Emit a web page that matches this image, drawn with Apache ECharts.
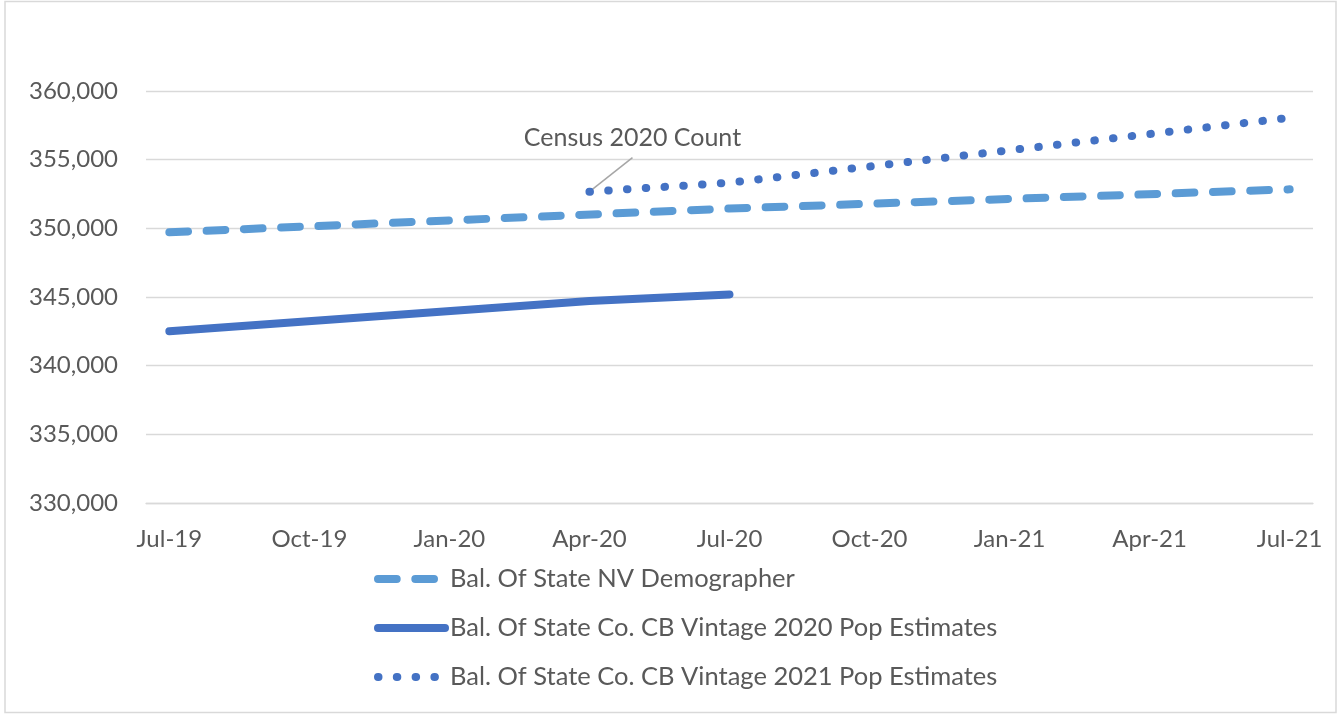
<!DOCTYPE html>
<html>
<head>
<meta charset="utf-8">
<script src="https://cdn.jsdelivr.net/npm/echarts@6/dist/echarts.min.js"></script>
<style>
  html, body { margin: 0; padding: 0; background: #fff; }
  #chart { width: 1339px; height: 715px; }
</style>
</head>
<body>
<div id="chart"></div>
<script>
// x 轴月份（Excel 日期轴，按月）
const months = [
  'Jul-19', 'Aug-19', 'Sep-19', 'Oct-19', 'Nov-19', 'Dec-19',
  'Jan-20', 'Feb-20', 'Mar-20', 'Apr-20', 'May-20', 'Jun-20',
  'Jul-20', 'Aug-20', 'Sep-20', 'Oct-20', 'Nov-20', 'Dec-20',
  'Jan-21', 'Feb-21', 'Mar-21', 'Apr-21', 'May-21', 'Jun-21', 'Jul-21'
]

const seriesNames = [
  'Bal. Of State NV Demographer',
  'Bal. Of State Co. CB Vintage 2020 Pop Estimates',
  'Bal. Of State Co. CB Vintage 2021 Pop Estimates'
]

// 各序列的数据点 [月份, 人口]
const nvDemographer = [['Jul-19', 349710], ['Jul-20', 351440], ['Jul-21', 352840]]
const vintage2020 = [['Jul-19', 342500], ['Apr-20', 344710], ['Jul-20', 345180]]
const vintage2021 = [['Apr-20', 352670], ['Jul-20', 353320], ['Jul-21', 358050]]

const yTicks = { min: 330000, max: 360000, step: 5000 }

const censusNote = { text: 'Census 2020 Count', month: 'Apr-20', value: 352670 }

const FONT = 'Lato, "Noto Sans", sans-serif'
const TEXT = '#595959'
const GRID = '#d9d9d9'

const chart = echarts.init(document.getElementById('chart'), null, { renderer: 'canvas' })

function lineSeries (name, data, color, type) {
  return {
    name,
    type: 'line',
    data,
    symbol: 'none',
    connectNulls: true,
    animation: false,
    lineStyle: { color, width: 8, type, cap: 'round', join: 'round' },
    itemStyle: { color }
  }
}

chart.setOption({
  backgroundColor: '#fff',
  grid: { left: 146, right: 26, top: 91, bottom: 212 },
  xAxis: {
    type: 'category',
    data: months,
    boundaryGap: true,
    axisLine: { lineStyle: { color: GRID, width: 1.3 } },
    axisTick: { interval: 2, length: 8, lineStyle: { color: GRID, width: 1.3 } },
    axisLabel: { interval: 2, color: TEXT, fontSize: 24, fontFamily: FONT, margin: 24 },
    splitLine: { show: false }
  },
  yAxis: {
    type: 'value',
    min: yTicks.min,
    max: yTicks.max,
    interval: yTicks.step,
    axisLine: { show: false },
    axisTick: { show: false },
    axisLabel: {
      color: TEXT,
      fontSize: 24,
      fontFamily: FONT,
      margin: 28,
      formatter: v => v.toLocaleString('en-US')
    },
    splitLine: { lineStyle: { color: GRID, width: 1.3 } }
  },
  legend: {
    orient: 'vertical',
    left: 369,
    top: 561,
    itemWidth: 67,
    itemHeight: 14,
    itemGap: 23,
    // 图例只画线，不画中间的圆点
    itemStyle: { opacity: 0 },
    lineStyle: { width: 8 },
    textStyle: { color: TEXT, fontSize: 25.5, fontFamily: FONT },
    data: seriesNames
  },
  series: [
    lineSeries(seriesNames[0], nvDemographer, '#5B9BD5', [18.7, 18.6]),
    lineSeries(seriesNames[1], vintage2020, '#4472C4', 'solid'),
    lineSeries(seriesNames[2], vintage2021, '#4472C4', [0.5, 18.3])
  ]
})

// 标注：人口普查点 + 引线
const pt = chart.convertToPixel({ xAxisIndex: 0, yAxisIndex: 0 }, [censusNote.month, censusNote.value])
chart.setOption({
  graphic: [
    {
      type: 'rect',
      silent: true,
      shape: { x: 5, y: 1.5, width: 1331, height: 711 },
      style: { fill: null, stroke: GRID, lineWidth: 1.5 }
    },
    {
      type: 'line',
      silent: true,
      shape: { x1: pt[0] + 43, y1: pt[1] - 34, x2: pt[0], y2: pt[1] },
      style: { stroke: '#a6a6a6', lineWidth: 1.5 }
    },
    {
      type: 'text',
      silent: true,
      x: pt[0] + 43,
      y: pt[1] - 54,
      style: {
        text: censusNote.text,
        fill: TEXT,
        font: '25px ' + FONT,
        textAlign: 'center',
        textVerticalAlign: 'middle'
      }
    }
  ]
})
</script>
</body>
</html>
